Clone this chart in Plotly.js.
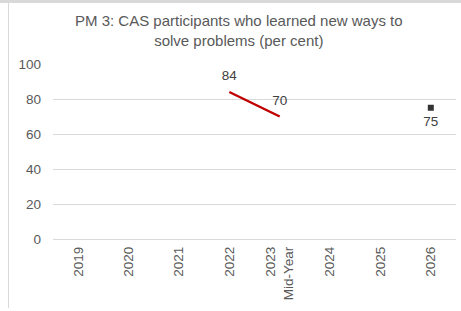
<!DOCTYPE html>
<html><head><meta charset="utf-8">
<script src="https://cdn.plot.ly/plotly-3.0.1.min.js"></script>
<style>
html,body{margin:0;padding:0;background:#fff;}
#wrap{position:relative;width:461px;height:311px;overflow:hidden;}
#chart{position:absolute;left:0;top:0;width:461px;height:311px;}
#topline{position:absolute;left:0;top:0;width:461px;height:3px;background:#d9d9d9;}
#leftline{position:absolute;left:8px;top:3px;width:1px;height:305px;background:#d9d9d9;}
</style></head>
<body><div id="wrap"><div id="chart"></div><div id="topline"></div><div id="leftline"></div></div>
<script>
const categories = ["2019","2020","2021","2022","2023<br>Mid-Year","2024","2025","2026"];
const actualValues = [null,null,null,84,70,null,null,null];
const targetValues = [null,null,null,null,null,null,null,75];
const yTicks = [0,20,40,60,80,100];

const fontFam = "Liberation Sans, Arial, sans-serif";
const lbl = v => v==null ? '' : String(v);
const traces = [
  {x: categories, y: actualValues, type:'scatter', mode:'lines+markers+text',
   line:{color:'#C00000', width:2.5},
   marker:{size:12, color:'rgba(0,0,0,0)'},
   text: actualValues.map(lbl),
   textposition:'top center', textfont:{family:fontFam,size:13.5,color:'#404040'},
   connectgaps:false, hoverinfo:'skip', cliponaxis:false},
  {x: categories, y: targetValues, type:'scatter', mode:'markers',
   marker:{symbol:'square', size:6, color:'#333333'},
   hoverinfo:'skip', cliponaxis:false},
  {x: categories, y: targetValues, type:'scatter', mode:'markers+text',
   marker:{size:11, color:'rgba(0,0,0,0)'},
   text: targetValues.map(lbl),
   textposition:'bottom center', textfont:{family:fontFam,size:13.5,color:'#404040'},
   hoverinfo:'skip', cliponaxis:false}
];
const layout = {
  width:461, height:311,
  margin:{l:53, r:5, t:64, b:72},
  paper_bgcolor:'rgba(0,0,0,0)', plot_bgcolor:'rgba(0,0,0,0)',
  showlegend:false,
  font:{family:fontFam, color:'#595959'},
  title:{text:'PM 3: CAS participants who learned new ways to<br>solve problems (per cent)',
    font:{family:fontFam,size:15,color:'#595959'}, x:0.518, xanchor:'center', y:0.916, yanchor:'middle'},
  xaxis:{type:'category', categoryorder:'array', categoryarray:categories,
    range:[-0.5,7.5], tickangle:-90, showgrid:false, zeroline:false, showline:false,
    ticks:'', ticklabelstandoff:4, tickfont:{family:fontFam,size:13.5,color:'#595959'}, fixedrange:true},
  yaxis:{range:[0,100], tickvals:yTicks, ticktext:yTicks.map(String), showgrid:true,
    gridcolor:'#d9d9d9', gridwidth:1, zeroline:true, zerolinecolor:'#d9d9d9', zerolinewidth:1,
    showline:false, ticks:'', ticklen:0, ticklabelstandoff:11, tickfont:{family:fontFam,size:13.5,color:'#595959'},
    fixedrange:true}
};
Plotly.newPlot('chart', traces, layout, {staticPlot:true, displayModeBar:false});
</script></body></html>
